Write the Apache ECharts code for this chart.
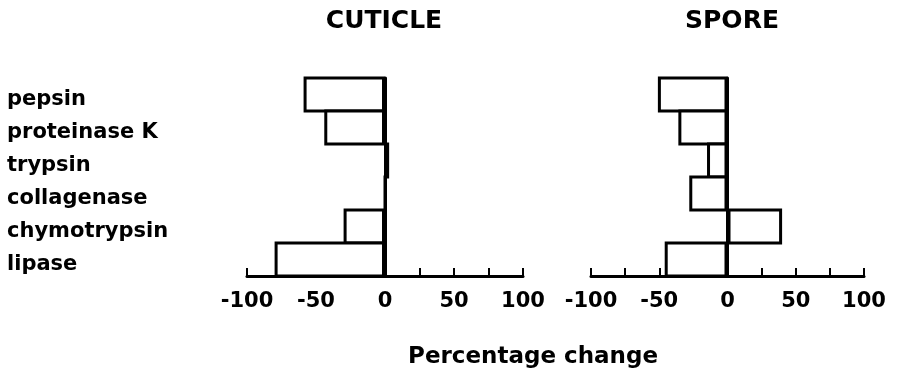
<!DOCTYPE html>
<html>
<head>
<meta charset="utf-8">
<script src="https://cdn.jsdelivr.net/npm/echarts@6/dist/echarts.min.js"></script>
<style>
  html, body { margin: 0; padding: 0; background: #fff; }
  #chart { width: 897px; height: 377px; }
</style>
</head>
<body>
<div id="chart"></div>
<script>
  // enzymes, top to bottom
  var enzymes = ['pepsin', 'proteinase K', 'trypsin', 'collagenase', 'chymotrypsin', 'lipase']
  // percentage change
  var cuticle = [-59, -44, 3, 0, -30, -80]
  var spore = [-51, -36, -15, -28, 40, -46]
  var panelTitles = ['CUTICLE', 'SPORE']
  var xTitle = 'Percentage change'

  var font = 'DejaVu Sans'

  function xAxisFor(gridIndex) {
    return {
      type: 'value',
      gridIndex: gridIndex,
      min: -100,
      max: 100,
      interval: 25,
      axisLine: { show: true, onZero: false, lineStyle: { color: '#000', width: 3 } },
      axisTick: { show: true, inside: true, length: 8, lineStyle: { color: '#000', width: 2 } },
      axisLabel: {
        margin: 15,
        color: '#000',
        fontFamily: font,
        fontWeight: 'bold',
        fontSize: 21,
        formatter: function (v) {
          return v % 50 === 0 ? String(v) : ''
        }
      },
      splitLine: { show: false }
    }
  }

  function yAxisFor(gridIndex, showLabels) {
    return {
      type: 'category',
      gridIndex: gridIndex,
      data: enzymes,
      inverse: true,
      axisLine: { show: true, onZero: true, lineStyle: { color: '#000', width: 3 } },
      axisTick: { show: false },
      axisLabel: {
        show: showLabels,
        align: 'left',
        // labels sit at the grid's left edge, not the zero line
        margin: 240,
        // nudge the names a little below the bar centres
        verticalAlign: 'top',
        lineHeight: 10,
        color: '#000',
        fontFamily: font,
        fontWeight: 'bold',
        fontSize: 21
      }
    }
  }

  function barsFor(index, values) {
    return {
      type: 'bar',
      xAxisIndex: index,
      yAxisIndex: index,
      data: values,
      // bars touch, sharing one outline
      barCategoryGap: -3,
      itemStyle: { color: '#fff', borderColor: '#000', borderWidth: 3 },
      silent: true
    }
  }

  var myChart = echarts.init(document.getElementById('chart'))
  var option = {
    backgroundColor: '#fff',
    animation: false,
    title: [
      {
        text: panelTitles[0], left: 379, top: 4, textAlign: 'center',
        textStyle: { color: '#000', fontFamily: font, fontWeight: 'bold', fontSize: 25 }
      },
      {
        text: panelTitles[1], left: 727, top: 4, textAlign: 'center',
        textStyle: { color: '#000', fontFamily: font, fontWeight: 'bold', fontSize: 25 }
      },
      {
        text: xTitle, left: 528, top: 341, textAlign: 'center',
        textStyle: { color: '#000', fontFamily: font, fontWeight: 'bold', fontSize: 23 }
      }
    ],
    grid: [
      { left: 247, top: 78, width: 276, height: 198, containLabel: false, outerBoundsMode: 'none' },
      { left: 591, top: 78, width: 273, height: 198, containLabel: false, outerBoundsMode: 'none' }
    ],
    xAxis: [xAxisFor(0), xAxisFor(1)],
    yAxis: [yAxisFor(0, true), yAxisFor(1, false)],
    series: [barsFor(0, cuticle), barsFor(1, spore)]
  }
  myChart.setOption(option)
</script>
</body>
</html>
